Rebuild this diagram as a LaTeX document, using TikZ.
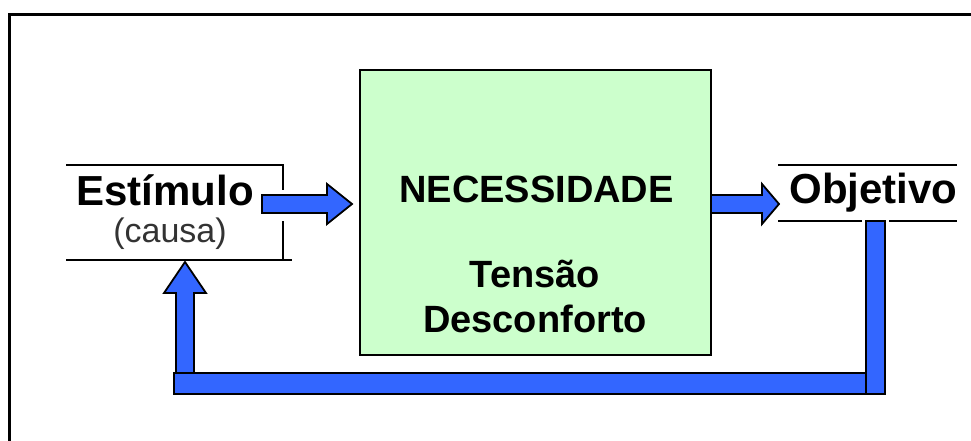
\documentclass[tikz,border=0pt]{standalone}
\usepackage{fontspec}
\setmainfont{Liberation Sans}
\usetikzlibrary{calc}
\definecolor{arrowblue}{HTML}{3366FF}
\definecolor{needgreen}{HTML}{CCFFCC}
\begin{document}
\begin{tikzpicture}[x=1pt, y=-1pt,
  bigtxt/.style = {anchor=base, inner sep=0pt, font=\fontsize{42}{48}\selectfont\bfseries},
  midtxt/.style = {anchor=base, inner sep=0pt, font=\fontsize{38}{44}\selectfont\bfseries},
  smalltxt/.style = {anchor=base, inner sep=0pt, text=black!80, font=\fontsize{34}{40}\selectfont},
  needbox/.style = {draw, fill=needgreen, line width=2.5pt, inner sep=0pt},
  blockarrow/.style = {draw, fill=arrowblue, line width=1.8pt, line join=miter},
  rule/.style = {line width=2pt}]
\useasboundingbox (0,0) rectangle (971,441);
% frame, only top and left are in view
\draw[line width=3pt] (9,441) -- (9,15) -- (971,15);

% texts
\node[bigtxt] (est) at (165,205) {Estímulo};
\node[smalltxt] (causa) at (170,242) {(causa)};
\node[bigtxt] (obj) at (873.5,203) {Objetivo};

% open boxes round Estimulo and Objetivo
\draw[rule] (66,165) -- (283,165) -- (283,190);
\draw[rule] (283,221) -- (283,260);
\draw[rule] (66,260) -- (292,260);
\draw[rule] (778,165) -- (957,165);
\draw[rule] (778,221) -- (862,221);
\draw[rule] (889,221) -- (957,221);

% forward arrows
\coordinate (in1) at (262,204);
\coordinate (tip1) at (352,204);
\draw[blockarrow] ($(tip1)+(-25,-20)$) -- (tip1) -- ($(tip1)+(-25,20)$) -- ($(tip1)+(-25,9)$)
  -- ($(in1)+(0,9)$) -- ($(in1)+(0,-9)$) -- ($(tip1)+(-25,-9)$) -- cycle;
\coordinate (in2) at (705,204);
\coordinate (tip2) at (779,204);
\draw[blockarrow] ($(tip2)+(-17,-20)$) -- (tip2) -- ($(tip2)+(-17,20)$) -- ($(tip2)+(-17,9)$)
  -- ($(in2)+(0,9)$) -- ($(in2)+(0,-9)$) -- ($(tip2)+(-17,-9)$) -- cycle;

% need box
\node[needbox, minimum width=351pt, minimum height=285pt] (nec) at (535.5,212.5) {};
\node[midtxt] (necname) at (536.5,202) {NECESSIDADE};
\node[midtxt] (tens) at (535,287) {Tensão};
\node[midtxt] (desc) at (535,332) {Desconforto};

% feedback
\coordinate (fbtop) at (875.5,221);
\coordinate (fbcorner) at (875.5,383.5);
\coordinate (tip3) at (185,262);
\draw[blockarrow] ($(fbtop)+(-9.5,0)$) rectangle ($(fbcorner)+(9.5,10.5)$);
\draw[blockarrow] ($(fbcorner)+(-9.5,-10.5)$) rectangle (174,394);
\draw[blockarrow] (tip3) -- ($(tip3)+(21,31)$) -- ($(tip3)+(9,31)$) -- (194,373)
  -- (176,373) -- ($(tip3)+(-9,31)$) -- ($(tip3)+(-21,31)$) -- cycle;
\end{tikzpicture}
\end{document}
